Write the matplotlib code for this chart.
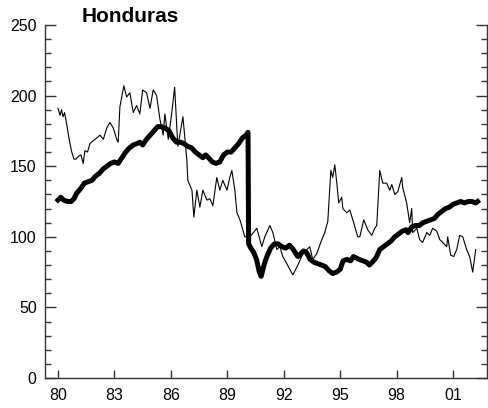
import numpy as np
import matplotlib
matplotlib.use("Agg")
import matplotlib.pyplot as plt
from matplotlib.ticker import MultipleLocator

plt.rcParams['font.family'] = ['Liberation Sans', 'DejaVu Sans']

# thick line (years as decimal, 80 = 1980)
thick_years = [80.0, 80.15, 80.3, 80.5, 80.7, 80.85, 81.0, 81.2, 81.4, 81.6, 81.8, 82.0, 82.2, 82.4,
               82.6, 82.8, 83.0, 83.2, 83.4, 83.6, 83.8, 84.0, 84.2, 84.35, 84.5, 84.7, 84.9, 85.1,
               85.3, 85.5, 85.7, 85.9, 86.1, 86.3, 86.5, 86.7, 86.9, 87.1, 87.3, 87.5, 87.7, 87.85,
               88.0, 88.2, 88.4, 88.6, 88.8, 89.0, 89.2, 89.4, 89.6, 89.8, 90.0, 90.1, 90.13, 90.25,
               90.4, 90.55, 90.7, 90.8, 90.95, 91.1, 91.3, 91.5, 91.7, 91.9, 92.1, 92.3, 92.45, 92.6,
               92.75, 92.9, 93.05, 93.2, 93.4, 93.6, 93.8, 94.0, 94.2, 94.4, 94.6, 94.8, 95.0, 95.15,
               95.35, 95.55, 95.7, 95.85, 96.0, 96.2, 96.4, 96.55, 96.7, 96.9, 97.1, 97.3, 97.5, 97.7,
               97.9, 98.1, 98.3, 98.5, 98.6, 98.8, 99.0, 99.2, 99.4, 99.6, 99.8, 100.0, 100.2, 100.4,
               100.6, 100.8, 101.0, 101.2, 101.4, 101.6, 101.8, 102.0, 102.2, 102.3]
thick_vals = [126, 128, 126, 125, 125, 127, 131, 134, 138, 139, 140, 143, 145, 148,
              150, 152, 153, 152, 156, 160, 163, 165, 166, 167, 165, 169, 172, 175,
              178, 178, 177, 175, 170, 167, 167, 166, 164, 163, 160, 158, 156, 158,
              156, 153, 152, 153, 158, 160, 160, 163, 166, 170, 172, 174, 95, 92,
              89, 84, 75, 72, 80, 86, 92, 95, 95, 93, 92, 94, 92, 89,
              86, 88, 90, 89, 84, 82, 81, 80, 79, 76, 74, 75, 77, 83,
              84, 83, 86, 85, 84, 83, 82, 80, 82, 85, 91, 93, 95, 97,
              100, 102, 104, 105, 103, 107, 108, 108, 110, 111, 112, 113, 116, 118,
              120, 121, 123, 124, 125, 124, 125, 125, 124, 125]

# thin line
thin_years = [80.0, 80.11, 80.19, 80.27, 80.35, 80.46, 80.58, 80.73, 80.85, 80.96, 81.08, 81.22,
              81.34, 81.43, 81.57, 81.7, 81.86, 82.06, 82.23, 82.41, 82.59, 82.76, 82.94, 83.12,
              83.2, 83.29, 83.5, 83.65, 83.82, 84.0, 84.18, 84.35, 84.5, 84.71, 84.89, 85.06,
              85.24, 85.42, 85.59, 85.68, 85.86, 86.04, 86.2, 86.37, 86.64, 86.85, 86.9, 87.12,
              87.22, 87.38, 87.54, 87.7, 87.91, 88.07, 88.23, 88.44, 88.6, 88.76, 88.98, 89.13,
              89.24, 89.4, 89.51, 89.67, 89.93, 90.2, 90.57, 90.83, 90.99, 91.26, 91.42, 91.63,
              91.79, 91.95, 92.16, 92.48, 92.75, 93.01, 93.38, 93.54, 93.75, 94.02, 94.18, 94.34,
              94.5, 94.6, 94.71, 94.82, 94.92, 95.08, 95.14, 95.35, 95.51, 95.67, 95.93, 96.04,
              96.25, 96.46, 96.68, 96.83, 96.94, 97.1, 97.26, 97.47, 97.63, 97.74, 97.9, 98.06,
              98.27, 98.32, 98.53, 98.69, 98.8, 98.85, 99.07, 99.22, 99.38, 99.6, 99.76, 99.91,
              100.13, 100.29, 100.45, 100.66, 100.71, 100.87, 101.03, 101.19, 101.35, 101.51,
              101.72, 101.88, 102.04, 102.2]
thin_vals = [191, 186, 190, 185, 188, 180, 170, 160, 155, 155, 157, 158,
             152, 161, 160, 166, 168, 170, 172, 169, 177, 181, 177, 169,
             167, 192, 207, 199, 202, 188, 193, 187, 204, 202, 191, 204,
             200, 183, 172, 187, 169, 187, 206, 164, 185, 154, 140, 133,
             114, 133, 121, 133, 126, 127, 122, 142, 133, 140, 133, 142,
             147, 133, 117, 112, 100, 100, 106, 93, 100, 108, 103, 91,
             93, 86, 81, 73, 80, 88, 93, 84, 88, 98, 103, 111,
             147, 142, 151, 138, 124, 128, 120, 117, 119, 112, 100, 100,
             112, 105, 101, 106, 108, 147, 138, 138, 133, 137, 130, 132,
             142, 135, 124, 110, 120, 103, 106, 98, 96, 103, 101, 106,
             104, 98, 96, 93, 100, 87, 86, 91, 101, 100,
             91, 86, 75, 91]

xticks = [80, 83, 86, 89, 92, 95, 98, 101]
xtick_labels = ['80', '83', '86', '89', '92', '95', '98', '01']

fig = plt.figure(figsize=(4.89, 4.08), dpi=100)
ax = fig.add_axes([45 / 489, 30 / 408, 442 / 489, 353 / 408])

ax.plot(thin_years, thin_vals, color='black', linewidth=0.8)
ax.plot(thick_years, thick_vals, color='black', linewidth=3.6, solid_joinstyle='round')

ax.set_xlim(79.31, 102.8)
ax.set_ylim(0, 250)
ax.set_xticks(xticks)
ax.set_xticklabels(xtick_labels)
ax.yaxis.set_major_locator(MultipleLocator(50))
ax.yaxis.set_minor_locator(MultipleLocator(10))

ax.spines['top'].set_visible(False)
for s in ['left', 'bottom', 'right']:
    ax.spines[s].set_linewidth(1.0)
    ax.spines[s].set_color('#333333')

ax.tick_params(axis='x', direction='in', length=6, width=1, colors='#333333',
               labelcolor='black', labelsize=11.5, pad=7)
ax.tick_params(axis='y', which='major', direction='in', length=8, width=1, colors='#333333',
               labelcolor='black', labelsize=11.5, pad=6, right=True)
ax.tick_params(axis='y', which='minor', direction='in', length=4, width=1, colors='#333333',
               right=True)

fig.text(130 / 489, 1 - 16 / 408, 'Honduras', ha='center', va='center',
         fontsize=15, fontweight='bold')

fig.savefig('out.png', dpi=100)
